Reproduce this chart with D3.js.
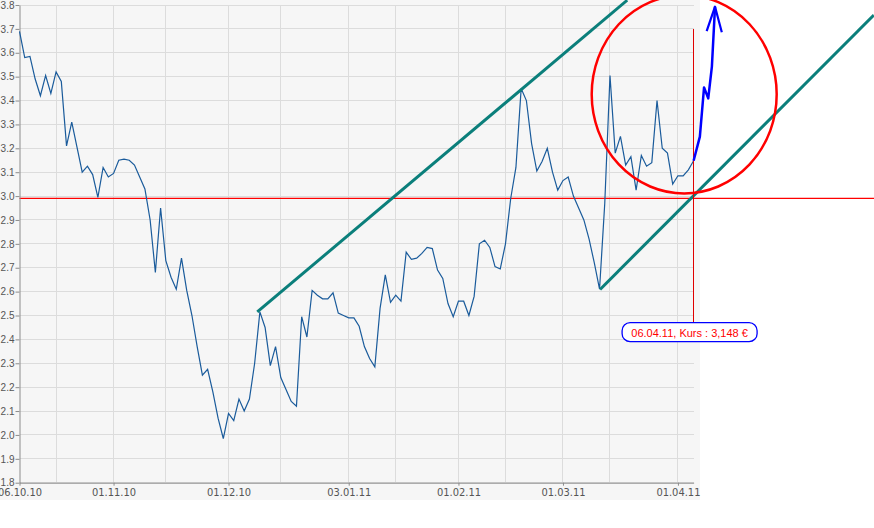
<!DOCTYPE html>
<html>
<head>
<meta charset="utf-8">
<script src="https://cdn.jsdelivr.net/npm/d3@7"></script>
<style>
  html, body { margin: 0; padding: 0; background: #ffffff; }
  svg { display: block; }
</style>
</head>
<body>
<script>
// ---- data ----
const labelDates = ["06.10.10", "01.11.10", "01.12.10", "03.01.11", "01.02.11", "01.03.11", "01.04.11"];
const labelIdx = [0, 18, 40, 63, 84, 104, 126];
const minorIdx = [7, 28, 50, 72, 93, 113];
const yTickValues = [1.8, 1.9, 2.0, 2.1, 2.2, 2.3, 2.4, 2.5, 2.6, 2.7, 2.8, 2.9, 3.0, 3.1, 3.2, 3.3, 3.4, 3.5, 3.6, 3.7, 3.8];
const kurs = [
  3.69, 3.58, 3.585, 3.49, 3.42, 3.505, 3.43, 3.52, 3.48, 3.21,
  3.31, 3.205, 3.10, 3.125, 3.09, 2.995, 3.12, 3.08, 3.095, 3.15,
  3.155, 3.15, 3.13, 3.08, 3.03, 2.90, 2.68, 2.95, 2.73, 2.66,
  2.61, 2.74, 2.605, 2.50, 2.37, 2.25, 2.275, 2.18, 2.07, 1.985,
  2.09, 2.06, 2.15, 2.10, 2.15, 2.30, 2.515, 2.45, 2.29, 2.37,
  2.24, 2.19, 2.14, 2.12, 2.495, 2.41, 2.605, 2.585, 2.57, 2.57,
  2.595, 2.51, 2.50, 2.49, 2.49, 2.455, 2.37, 2.32, 2.285, 2.53,
  2.67, 2.555, 2.585, 2.56, 2.765, 2.735, 2.74, 2.76, 2.785, 2.78,
  2.69, 2.655, 2.55, 2.495, 2.56, 2.56, 2.50, 2.58, 2.80, 2.815,
  2.785, 2.705, 2.695, 2.80, 2.99, 3.12, 3.45, 3.40, 3.22, 3.105,
  3.145, 3.20, 3.10, 3.025, 3.065, 3.08, 3.00, 2.95, 2.90, 2.82,
  2.72, 2.61, 2.97, 3.505, 3.18, 3.25, 3.13, 3.165, 3.025, 3.17,
  3.125, 3.14, 3.40, 3.20, 3.18, 3.05, 3.085, 3.085, 3.11, 3.148
];
const supportLevel = 2.99;
// annotations in data units [index, value]
const trendA = [[45.5, 2.515], [116.3, 3.82]];
const trendB = [[111.1, 2.609], [163.5, 3.758]];
const arrowPath = [[129, 3.148], [130.2, 3.249], [131.0, 3.455], [131.8, 3.409], [132.5, 3.542], [133.1, 3.793]];
const arrowHead = [[131.5, 3.691], [133.1, 3.793], [134.4, 3.686]];
const ellipse = { cIdx: 127.2, cVal: 3.426, rIdx: 17.7, rVal: 0.415 };
const tooltipText = "06.04.11, Kurs : 3,148 €";

// ---- chart ----
const W = 874, H = 528;
const svg = d3.select("body").append("svg").attr("width", W).attr("height", H);

const x = d3.scaleLinear().domain([0, kurs.length - 1]).range([19.5, 693.6]);
const y = d3.scaleLinear().domain([1.8, 3.8]).range([482.7, 5]);

// plot background
svg.append("rect").attr("x", 0).attr("y", 0).attr("width", 700).attr("height", 500).attr("fill", "#f6f6f6");

// grid
const grid = svg.append("g").attr("stroke", "#dcdcdc").attr("stroke-width", 1).attr("shape-rendering", "crispEdges");
grid.selectAll("line.h").data(yTickValues).join("line")
  .attr("x1", x(0)).attr("x2", x(kurs.length - 1))
  .attr("y1", d => y(d)).attr("y2", d => y(d));
grid.selectAll("line.v").data(labelIdx.slice(1).concat(minorIdx)).join("line")
  .attr("y1", y(3.8)).attr("y2", y(1.8))
  .attr("x1", d => x(d)).attr("x2", d => x(d));

// support line
svg.append("line")
  .attr("x1", x(0)).attr("x2", W)
  .attr("y1", y(supportLevel)).attr("y2", y(supportLevel))
  .attr("stroke", "#ff0000").attr("stroke-width", 1.3);

// axes
const yAxis = svg.append("g").attr("transform", `translate(${x(0)},0)`)
  .call(d3.axisLeft(y).tickValues(yTickValues).tickSize(4).tickSizeOuter(0).tickPadding(1).tickFormat(d3.format(".1f")));
yAxis.select(".domain").attr("stroke", "#8c8c8c");
yAxis.selectAll(".tick line").attr("stroke", "#8c8c8c");
yAxis.selectAll("text").attr("font-family", "'Liberation Sans', Arial, sans-serif").attr("font-size", 10).attr("fill", "#555");

const xAxis = svg.append("g").attr("transform", `translate(0,${y(1.8)})`)
  .call(d3.axisBottom(x).tickValues(labelIdx).tickSize(3).tickSizeOuter(0).tickPadding(2.5).tickFormat((d, i) => labelDates[i]));
xAxis.select(".domain").attr("stroke", "#8c8c8c");
xAxis.selectAll(".tick line").attr("stroke", "#8c8c8c");
xAxis.selectAll("text").attr("font-family", "'Liberation Sans Narrow', 'Arial Narrow', 'DejaVu Sans Condensed', sans-serif").attr("font-size", 11).attr("fill", "#555");

// price line
svg.append("path").datum(kurs)
  .attr("fill", "none").attr("stroke", "#1a5b9b").attr("stroke-width", 1.2)
  .attr("d", d3.line().x((d, i) => x(i)).y(d => y(d)));

// trend lines
const lineXY = d3.line().x(d => x(d[0])).y(d => y(d[1]));
[trendA, trendB].forEach(t => {
  svg.append("path").datum(t).attr("fill", "none")
    .attr("stroke", "#0b7f7b").attr("stroke-width", 3).attr("d", lineXY);
});

// cursor line
const last = kurs.length - 1;
svg.append("line")
  .attr("x1", x(last)).attr("x2", x(last))
  .attr("y1", y(3.70)).attr("y2", y(2.47))
  .attr("stroke", "#e00000").attr("stroke-width", 1).attr("shape-rendering", "crispEdges");

// ellipse
svg.append("ellipse")
  .attr("cx", x(ellipse.cIdx)).attr("cy", y(ellipse.cVal))
  .attr("rx", x(ellipse.cIdx + ellipse.rIdx) - x(ellipse.cIdx))
  .attr("ry", y(ellipse.cVal - ellipse.rVal) - y(ellipse.cVal))
  .attr("fill", "none").attr("stroke", "#ff0000").attr("stroke-width", 2.5);

// arrow
svg.append("path").datum(arrowPath).attr("fill", "none")
  .attr("stroke", "#0000ff").attr("stroke-width", 2.5).attr("stroke-linejoin", "round").attr("d", lineXY);
svg.append("path").datum(arrowHead).attr("fill", "none")
  .attr("stroke", "#0000ff").attr("stroke-width", 2.2).attr("stroke-linejoin", "round").attr("d", lineXY);

// tooltip
const tipCx = x(last) - 4, tipTop = y(2.47);
const tip = svg.append("g");
tip.append("rect")
  .attr("x", tipCx - 67.5).attr("y", tipTop).attr("width", 135).attr("height", 19)
  .attr("rx", 8).attr("ry", 8)
  .attr("fill", "#ffffff").attr("stroke", "#0000ff").attr("stroke-width", 1.3);
tip.append("text")
  .attr("x", tipCx).attr("y", tipTop + 14)
  .attr("text-anchor", "middle")
  .attr("font-family", "'Liberation Sans', Arial, sans-serif").attr("font-size", 11)
  .attr("fill", "#ff0000")
  .text(tooltipText);
</script>
</body>
</html>
